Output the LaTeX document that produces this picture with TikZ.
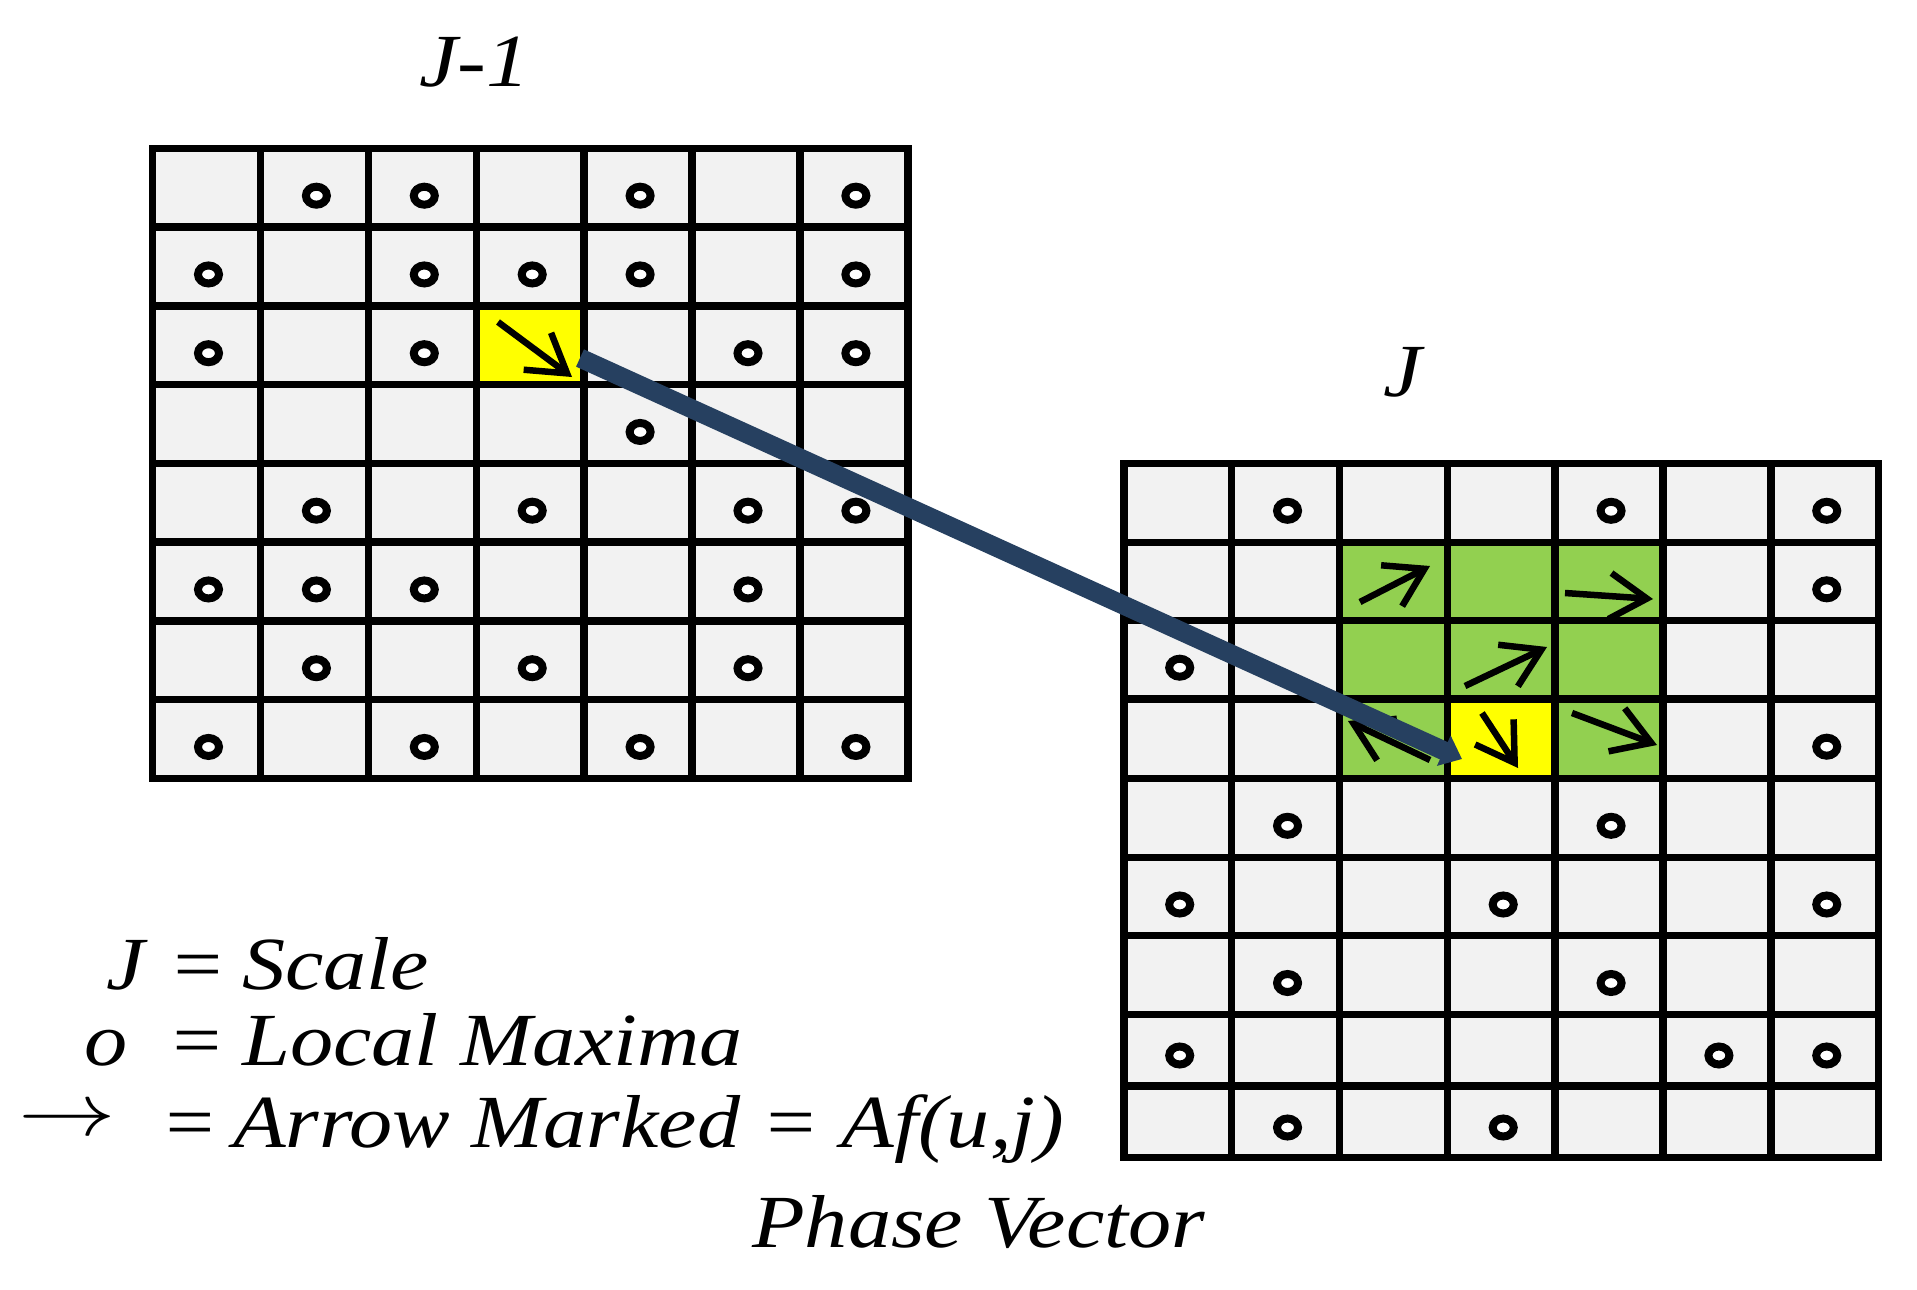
\RequirePackage{fix-cm}
\documentclass[tikz,border=0pt]{standalone}
\usepackage{fontspec}
\usepackage{graphicx}
\setmainfont{Liberation Serif}
\newfontfamily\lblfont{Liberation Serif}[FakeStretch=1.15]
\usetikzlibrary{arrows.meta,shapes.geometric}
\definecolor{cellgray}{HTML}{F2F2F2}
\definecolor{hlgreen}{HTML}{92D050}
\definecolor{hlyellow}{HTML}{FFFF00}
\definecolor{linkblue}{RGB}{38,64,96}
\tikzset{
  gridline/.style={draw=black, line width=7.5pt},
  lmax/.style={ellipse, draw=black, fill=white, line width=8pt, minimum width=21pt, minimum height=18pt, inner sep=0pt},
  phase/.style={draw=black, line width=6.5pt, -{Straight Barb[length=37pt,width=46pt]}},
  link/.style={draw=linkblue, line width=19pt, -{Triangle[length=20pt,width=32pt]}},
  lbl/.style={font=\lblfont\fontsize{75}{80}\selectfont\itshape, inner sep=0pt, anchor=base west},
  legarrow/.style={font=\fontsize{75}{80}\selectfont, inner sep=0pt, anchor=base west}
}
\begin{document}
\begin{tikzpicture}[x=1pt,y=-1pt]
\useasboundingbox (0,0) rectangle (1917,1290);
\fill[white] (0,0) rectangle (1917,1290);

% ---------- left grid (scale J-1) ----------
\fill[cellgray] (152.6,148.3) rectangle (907.9,778.3);
\fill[hlyellow] (476.3,305.8) rectangle (584.2,384.55);
\foreach \i in {1,...,6} \draw[gridline] (152.6+\i*107.9,148.3) -- ++(0,630);
\foreach \j in {1,...,7} \draw[gridline] (152.6,148.3+\j*78.75) -- ++(755.3,0);
\draw[gridline] (152.6,148.3) rectangle (907.9,778.3);

\foreach \r/\c in {0/1,0/2,0/4,0/6,1/0,1/2,1/3,1/4,1/6,2/0,2/2,2/5,2/6,3/4,4/1,4/3,4/5,4/6,5/0,5/1,5/2,5/5,6/1,6/3,6/5,7/0,7/2,7/4,7/6}
  \node[lmax] (L\r\c) at (208.5+\c*107.9, 195.7+\r*78.75) {};

% ---------- right grid (scale J) ----------
\fill[cellgray] (1123.8,463.3) rectangle (1878.7,1157.3);
\fill[hlgreen] (1340,542.3) rectangle (1663.6,778.3);
\fill[hlyellow] (1447.9,699) rectangle (1555.7,778.3);
\foreach \i in {1,...,6} \draw[gridline] (1123.8+\i*107.84,463.3) -- (1123.8+\i*107.84,1157.3);
\foreach \y in {542.3,620.3,699,778.3,857.3,935.7,1014.3,1086} \draw[gridline] (1123.8,\y) -- (1878.7,\y);
\draw[gridline] (1123.8,463.3) rectangle (1878.7,1157.3);

\foreach \r/\c in {0/1,0/4,0/6,1/6,2/0,3/6,4/1,4/4,5/0,5/3,5/6,6/1,6/4,7/0,7/5,7/6,8/1,8/3}{
  \pgfmathsetmacro\dy{{510.8,589.3,667.7,746.7,825.8,904.5,983,1055.5,1127.5}[\r]}
  \node[lmax] (R\r\c) at (1179.7+\c*107.84, \dy) {};
}

% ---------- phase vector arrows ----------
\coordinate (pLs) at (498,322);  \coordinate (pLe) at (572,377);
\coordinate (p1s) at (1360,602); \coordinate (p1e) at (1430,566);
\coordinate (p2s) at (1565,593); \coordinate (p2e) at (1653,599);
\coordinate (p3s) at (1465,686); \coordinate (p3e) at (1547,647);
\coordinate (p4s) at (1430,760); \coordinate (p4e) at (1348,721);
\coordinate (p5s) at (1482,713); \coordinate (p5e) at (1518,768);
\coordinate (p6s) at (1572,713); \coordinate (p6e) at (1657,745);
\foreach \a in {L,1,2,3,4,5,6} \draw[phase] (p\a s) -- (p\a e);

% ---------- link between scales ----------
\coordinate (src) at (580,358);
\coordinate (dst) at (1462,759);
\draw[link] (src) -- (dst);

% ---------- labels ----------
\node[lbl] (tJm1) at (419,87) {J-1};
\node[lbl] (tJ) at (1383,396) {J};

\node[lbl] (k1) at (106,989) {J};
\node[lbl] (e1) at (168,989) {=};
\node[lbl] (t1) at (242,989) {Scale};

\node[lbl] (k2) at (84,1065) {o};
\node[lbl] (e2) at (167,1065) {=};
\node[lbl] (t2) at (242,1065) {Local Maxima};

\node[legarrow] (k3) at (18,1135) {\scalebox{1.3}[1]{$\rightarrow$}};
\node[lbl] (e3) at (160,1147) {=};
\node[lbl] (t3) at (233,1147) {Arrow Marked = Af(u,j)};

\node[lbl] (tPV) at (752,1247) {Phase Vector};
\end{tikzpicture}
\end{document}
